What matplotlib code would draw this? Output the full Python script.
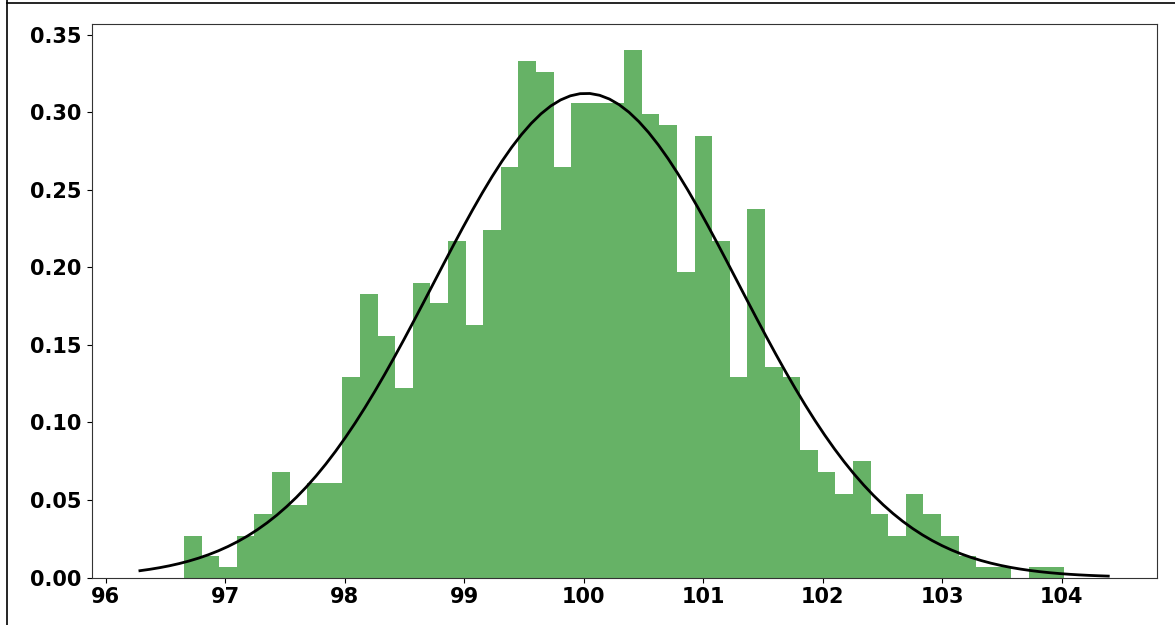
import numpy as np
import matplotlib
matplotlib.use("Agg")
import matplotlib.pyplot as plt
from matplotlib.lines import Line2D

# Histogram (50 bins, density)
bin_start = 96.653
bin_end = 104.02
n_bins = 50
heights = [0.027, 0.014, 0.007, 0.027, 0.041, 0.068, 0.047, 0.061, 0.061, 0.129,
           0.183, 0.156, 0.122, 0.190, 0.177, 0.217, 0.163, 0.224, 0.265, 0.333,
           0.326, 0.265, 0.306, 0.306, 0.306, 0.340, 0.299, 0.292, 0.197, 0.285,
           0.217, 0.129, 0.238, 0.136, 0.129, 0.082, 0.068, 0.054, 0.075, 0.041,
           0.027, 0.054, 0.041, 0.027, 0.014, 0.007, 0.007, 0.0, 0.007, 0.007]

edges = np.linspace(bin_start, bin_end, n_bins + 1)
centers = (edges[:-1] + edges[1:]) / 2
h = np.array(heights)

# normal fit from the histogram
mu = np.sum(centers * h) / np.sum(h)
sigma = np.sqrt(np.sum(h * (centers - mu) ** 2) / np.sum(h))

fig = plt.figure(figsize=(11.75, 6.25), dpi=100)
ax = fig.add_axes([91.5 / 1175, 1 - 577.5 / 625, (1156.7 - 91.5) / 1175, (577.5 - 24) / 625])

ax.hist(centers, bins=edges, weights=h, color='g', alpha=0.6)
xmin, xmax = ax.get_xlim()
x = np.linspace(xmin, xmax, 100)
p = np.exp(-0.5 * ((x - mu) / sigma) ** 2) / (sigma * np.sqrt(2 * np.pi))
ax.plot(x, p, 'k', linewidth=2)

for lab in ax.get_xticklabels() + ax.get_yticklabels():
    lab.set_fontsize(15)
    lab.set_fontweight('bold')
for s in ax.spines.values():
    s.set_color('#333333')

# screenshot border (left and top)
fig.add_artist(Line2D([7 / 1175, 7 / 1175], [0, 1], transform=fig.transFigure, color='black', lw=1.2))
fig.add_artist(Line2D([7 / 1175, 1], [1 - 3 / 625, 1 - 3 / 625], transform=fig.transFigure, color='black', lw=1.2))

fig.savefig("out.png", dpi=100)
